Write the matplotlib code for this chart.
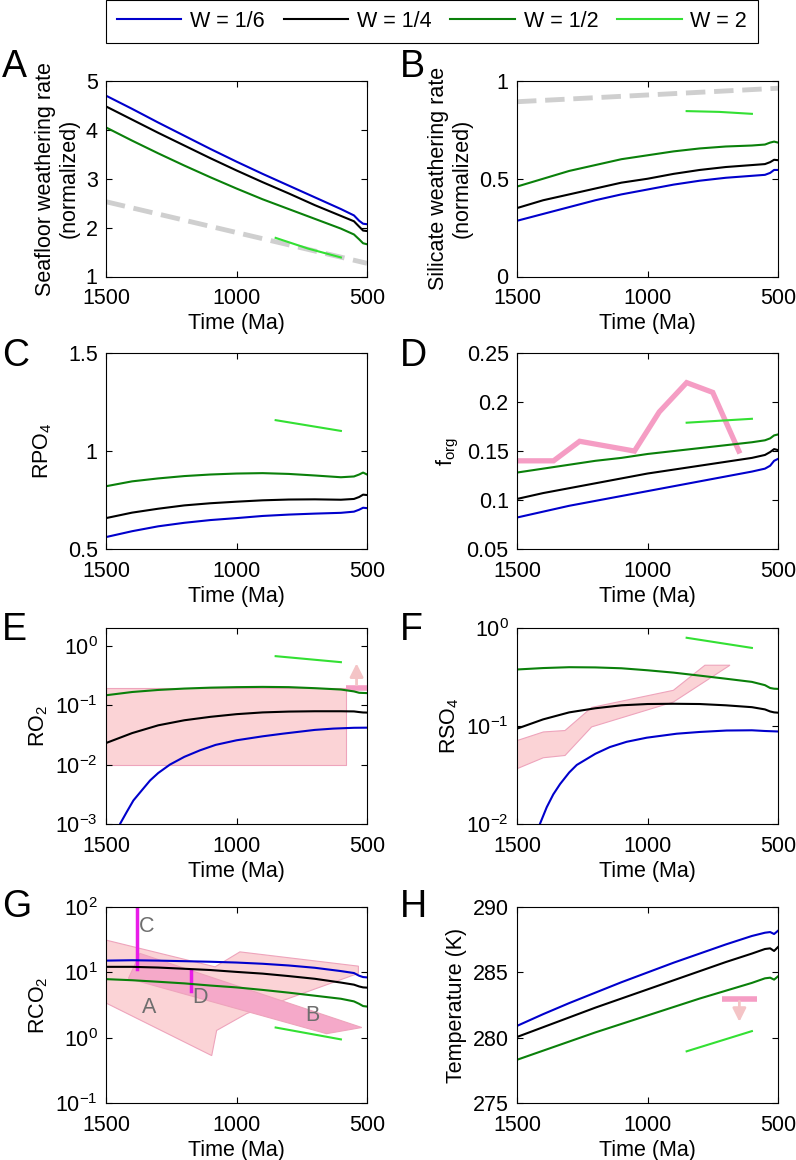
import matplotlib
matplotlib.use('Agg')
import matplotlib.pyplot as plt
from matplotlib.ticker import NullLocator, FuncFormatter

plt.rcParams['font.family'] = ['Liberation Sans', 'DejaVu Sans']
plt.rcParams['mathtext.fontset'] = 'custom'
plt.rcParams['mathtext.rm'] = 'Liberation Sans'
plt.rcParams['mathtext.it'] = 'Liberation Sans:italic'
plt.rcParams['mathtext.bf'] = 'Liberation Sans:bold'
plt.rcParams['axes.linewidth'] = 0.8

# model time grid (Ma)
t = [1500, 1400, 1300, 1200, 1100, 1000, 900, 800, 700, 600, 550, 530, 515, 500]
t_w2 = [850, 600]
labels = ['W = 1/6', 'W = 1/4', 'W = 1/2', 'W = 2']
colors = ['#0000cc', 'black', '#0a800a', '#33e033']

# A seafloor weathering
sea_16 = [4.70, 4.43, 4.15, 3.88, 3.61, 3.35, 3.10, 2.86, 2.62, 2.38, 2.25, 2.14, 2.08, 2.07]
sea_14 = [4.48, 4.21, 3.94, 3.68, 3.42, 3.17, 2.93, 2.70, 2.46, 2.24, 2.13, 2.02, 1.94, 1.93]
sea_12 = [4.05, 3.78, 3.52, 3.27, 3.03, 2.80, 2.58, 2.38, 2.18, 1.98, 1.86, 1.76, 1.68, 1.66]
sea_w2_t = [850, 725, 600]
sea_w2 = [1.79, 1.57, 1.39]
sea_ref_t = [1500, 500]
sea_ref = [2.53, 1.27]

# B silicate weathering
sil_16 = [0.285, 0.32, 0.355, 0.39, 0.42, 0.445, 0.47, 0.49, 0.505, 0.515, 0.52, 0.53, 0.545, 0.545]
sil_14 = [0.35, 0.39, 0.42, 0.45, 0.48, 0.50, 0.525, 0.545, 0.56, 0.57, 0.575, 0.585, 0.597, 0.595]
sil_12 = [0.46, 0.50, 0.54, 0.57, 0.60, 0.62, 0.64, 0.655, 0.665, 0.67, 0.675, 0.685, 0.69, 0.685]
sil_w2_t = [850, 725, 600]
sil_w2 = [0.846, 0.842, 0.832]
sil_ref_t = [1500, 500]
sil_ref = [0.894, 0.963]

# C RPO4
po4_16 = [0.56, 0.59, 0.615, 0.633, 0.647, 0.657, 0.668, 0.675, 0.68, 0.684, 0.69, 0.70, 0.71, 0.708]
po4_14 = [0.657, 0.685, 0.705, 0.722, 0.733, 0.741, 0.748, 0.752, 0.753, 0.751, 0.755, 0.765, 0.777, 0.775]
po4_12 = [0.82, 0.845, 0.86, 0.872, 0.88, 0.885, 0.887, 0.883, 0.875, 0.866, 0.87, 0.88, 0.89, 0.88]
po4_w2 = [1.158, 1.103]

# D forg
forg_16 = [0.082, 0.088, 0.094, 0.099, 0.104, 0.109, 0.114, 0.119, 0.124, 0.129, 0.132, 0.135, 0.140, 0.142]
forg_14 = [0.101, 0.107, 0.112, 0.117, 0.122, 0.127, 0.131, 0.135, 0.139, 0.143, 0.146, 0.149, 0.152, 0.151]
forg_12 = [0.128, 0.132, 0.136, 0.140, 0.143, 0.147, 0.150, 0.153, 0.156, 0.159, 0.161, 0.163, 0.166, 0.167]
forg_w2 = [0.179, 0.183]
forg_obs_t = [1500, 1360, 1260, 1050, 955, 850, 750, 650]
forg_obs = [0.14, 0.14, 0.16, 0.15, 0.19, 0.22, 0.21, 0.15]

# E RO2
o2_16_t = [1452, 1446, 1420, 1395, 1360, 1331, 1300, 1255, 1200, 1140, 1080, 1000, 900, 821, 700, 629, 550, 500]
o2_16 = [0.0008, 0.001, 0.0016, 0.00248, 0.0038, 0.0054, 0.0072, 0.01, 0.0135, 0.0174, 0.0215, 0.0257,
         0.030, 0.0333, 0.0385, 0.0405, 0.0418, 0.042]
o2_14 = [0.0231, 0.034, 0.046, 0.056, 0.064, 0.071, 0.076, 0.0785, 0.0795, 0.0795, 0.079, 0.077, 0.0758, 0.0755]
o2_12 = [0.148, 0.168, 0.182, 0.192, 0.199, 0.203, 0.205, 0.203, 0.195, 0.185, 0.172, 0.163, 0.162, 0.161]
o2_w2 = [0.677, 0.536]
o2_box_t = [1500, 580]
o2_box = [0.01, 0.2]
o2_min_t = [580, 500]
o2_min = 0.2
o2_arrow_t = 540
o2_arrow_top = 0.57

# F RSO4
so4_16_t = [1420, 1412, 1386, 1361, 1335, 1300, 1271, 1200, 1144, 1080, 1003, 888, 800, 697, 600, 550, 500]
so4_16 = [0.0085, 0.01, 0.0148, 0.020, 0.0255, 0.0335, 0.040, 0.052, 0.061, 0.069, 0.076, 0.0835, 0.087,
          0.090, 0.0905, 0.089, 0.088]
so4_14 = [0.094, 0.117, 0.138, 0.152, 0.163, 0.168, 0.169, 0.168, 0.163, 0.156, 0.148, 0.141, 0.138, 0.137]
so4_12 = [0.379, 0.392, 0.40, 0.398, 0.39, 0.372, 0.352, 0.328, 0.305, 0.283, 0.262, 0.245, 0.241, 0.240]
so4_w2 = [0.80, 0.63]
so4_band_t = [1500, 1399, 1316, 1214, 901, 780, 684, 901, 1214, 1316, 1399, 1500]
so4_band = [0.071, 0.087, 0.090, 0.155, 0.232, 0.419, 0.419, 0.176, 0.098, 0.050, 0.0474, 0.0366]

# G RCO2
co2_16 = [15.2, 15.4, 15.2, 14.9, 14.6, 14.2, 13.6, 12.8, 11.8, 10.5, 9.8, 8.9, 8.5, 8.4]
co2_14 = [12.2, 12.2, 11.9, 11.4, 10.9, 10.2, 9.6, 8.8, 8.0, 7.0, 6.5, 6.1, 5.9, 5.85]
co2_12 = [7.9, 7.6, 7.2, 6.8, 6.3, 5.9, 5.4, 4.9, 4.4, 3.95, 3.6, 3.3, 3.05, 3.0]
co2_w2 = [1.43, 0.94]
co2_A_t = [1500, 1082, 987, 533, 533, 961, 1076, 1095, 1500]
co2_A = [31.4, 12.2, 20.7, 12.5, 9.7, 2.34, 1.29, 0.53, 3.4]
co2_B_t = [1414, 1370, 520, 655]
co2_B = [8.1, 19.6, 1.43, 1.15]
co2_C_t = 1380
co2_C = [100, 11.2]
co2_D_t = 1174
co2_D = [10.5, 5.2]
co2_text = ['A', 'B', 'C', 'D']
co2_text_t = [1336, 710, 1344, 1140]
co2_text_v = [2.95, 2.2, 50, 4.2]

# H temperature
temp_16 = [280.9, 281.8, 282.65, 283.45, 284.25, 285.0, 285.75, 286.45, 287.15, 287.8, 288.05, 288.1, 287.95, 288.2]
temp_14 = [280.05, 280.8, 281.55, 282.3, 283.0, 283.7, 284.4, 285.1, 285.8, 286.45, 286.8, 286.85, 286.65, 286.95]
temp_12 = [278.3, 279.0, 279.7, 280.4, 281.05, 281.7, 282.35, 283.0, 283.6, 284.2, 284.55, 284.6, 284.45, 284.7]
temp_w2 = [278.95, 280.5]
temp_max_t = [715, 582]
temp_max = 283.0
temp_arrow_t = 648
temp_arrow_bot = 281.0

pink_light = '#fbd3d6'
pink_edge = '#eea4bc'
pink_hot = '#f59dc4'
pink_arrow = '#f4c4c6'
grey = '#cfcfcf'
magenta = '#e81ce8'
fs = 15.5

fig = plt.figure(figsize=(7.96, 11.6), dpi=100)
W, H = 796.0, 1160.0
lefts = [106, 517]
tops = [81, 353.3, 628.3, 907.3]


def make_ax(row, col):
    return fig.add_axes([lefts[col] / W, 1 - (tops[row] + 195.5) / H, 261 / W, 195.5 / H])


def setup(ax, ylim, yticks, ylabel, log=False):
    ax.set_xlim(1500, 500)
    ax.set_xticks([1500, 1000, 500])
    if log:
        ax.set_yscale('log')
        ax.yaxis.set_minor_locator(NullLocator())
    else:
        ax.yaxis.set_major_formatter(FuncFormatter(lambda v, p: '%g' % v))
    ax.set_ylim(*ylim)
    ax.set_yticks(yticks)
    ax.tick_params(direction='in', top=True, right=True, length=4, width=0.8,
                   labelsize=fs)
    ax.tick_params(axis='x', pad=8.5)
    ax.tick_params(axis='y', pad=6)
    ax.set_xlabel('Time (Ma)', fontsize=fs, labelpad=3)
    ax.set_ylabel(ylabel, fontsize=fs)


def model_lines(ax, y16, y14, y12, yw2, t16=t, tw2=t_w2):
    h = []
    h += ax.plot(t16, y16, color=colors[0], lw=1.5)
    h += ax.plot(t, y14, color=colors[1], lw=1.5)
    h += ax.plot(t, y12, color=colors[2], lw=1.5)
    h += ax.plot(tw2, yw2, color=colors[3], lw=1.5)
    return h


def letter(s, x, y):
    fig.text(x / W, 1 - y / H, s, fontsize=27, va='baseline', ha='left')


# A
ax = make_ax(0, 0)
ax.plot(sea_ref_t, sea_ref, color=grey, lw=3.5, ls=(0, (4, 1.8)))
handles = model_lines(ax, sea_16, sea_14, sea_12, sea_w2, tw2=sea_w2_t)
setup(ax, (1, 5), [1, 2, 3, 4, 5], 'Seafloor weathering rate\n(normalized)')
letter('A', 2, 77)

# B
ax = make_ax(0, 1)
ax.plot(sil_ref_t, sil_ref, color=grey, lw=3.5, ls=(0, (4, 1.8)))
model_lines(ax, sil_16, sil_14, sil_12, sil_w2, tw2=sil_w2_t)
setup(ax, (0, 1), [0, 0.5, 1], 'Silicate weathering rate\n(normalized)')
letter('B', 400, 77)

# C
ax = make_ax(1, 0)
model_lines(ax, po4_16, po4_14, po4_12, po4_w2)
setup(ax, (0.5, 1.5), [0.5, 1, 1.5], 'RPO$_4$')
ax.yaxis.labelpad = 10
letter('C', 2, 366)

# D
ax = make_ax(1, 1)
ax.plot(forg_obs_t, forg_obs, color=pink_hot, lw=3.8, solid_joinstyle='miter')
model_lines(ax, forg_16, forg_14, forg_12, forg_w2)
setup(ax, (0.05, 0.25), [0.05, 0.1, 0.15, 0.2, 0.25], 'f$_{\\mathrm{org}}$')
letter('D', 400, 366)

# E
ax = make_ax(2, 0)
ax.fill_between(o2_box_t, o2_box[0], o2_box[1], facecolor=pink_light, edgecolor=pink_edge, lw=0.8)
ax.plot(o2_min_t, [o2_min, o2_min], color=pink_hot, lw=4, solid_capstyle='butt')
ax.annotate('', xy=(o2_arrow_t, o2_arrow_top), xytext=(o2_arrow_t, o2_min),
            arrowprops=dict(arrowstyle='-|>', color=pink_arrow, lw=2, mutation_scale=20))
model_lines(ax, o2_16, o2_14, o2_12, o2_w2, t16=o2_16_t)
setup(ax, (1e-3, 2), [1e-3, 1e-2, 1e-1, 1], 'RO$_2$', log=True)
letter('E', 2, 640)

# F
ax = make_ax(2, 1)
ax.fill(so4_band_t, so4_band, facecolor=pink_light, edgecolor=pink_edge, lw=0.8)
model_lines(ax, so4_16, so4_14, so4_12, so4_w2, t16=so4_16_t)
setup(ax, (1e-2, 1), [1e-2, 1e-1, 1], 'RSO$_4$', log=True)
letter('F', 400, 640)

# G
ax = make_ax(3, 0)
ax.fill(co2_A_t, co2_A, facecolor=pink_light, edgecolor=pink_edge, lw=0.8)
ax.fill(co2_B_t, co2_B, facecolor='#f5a9c9', edgecolor=pink_edge, lw=0.8)
ax.plot([co2_C_t, co2_C_t], co2_C, color=magenta, lw=2.5)
ax.plot([co2_D_t, co2_D_t], co2_D, color=magenta, lw=2.5)
for s, tx, ty in zip(co2_text, co2_text_t, co2_text_v):
    ax.text(tx, ty, s, fontsize=fs, color='#6e6e6e', ha='center', va='center')
model_lines(ax, co2_16, co2_14, co2_12, co2_w2)
setup(ax, (0.1, 100), [0.1, 1, 10, 100], 'RCO$_2$', log=True)
letter('G', 2, 917)

# H
ax = make_ax(3, 1)
ax.plot(temp_max_t, [temp_max, temp_max], color=pink_hot, lw=4, solid_capstyle='butt')
ax.annotate('', xy=(temp_arrow_t, temp_arrow_bot), xytext=(temp_arrow_t, temp_max),
            arrowprops=dict(arrowstyle='-|>', color=pink_arrow, lw=2, mutation_scale=20))
model_lines(ax, temp_16, temp_14, temp_12, temp_w2)
setup(ax, (275, 290), [275, 280, 285, 290], 'Temperature (K)')
letter('H', 400, 917)

leg = fig.legend(handles, labels, ncol=4, loc='center', mode='expand',
                 bbox_to_anchor=(106 / W, 1 - 41 / H, 652 / W, 39 / H),
                 fontsize=fs, frameon=True, fancybox=False, framealpha=1,
                 handlelength=3.0, handletextpad=0.4, borderaxespad=0, borderpad=0.5)
leg.get_frame().set_edgecolor('black')
leg.get_frame().set_linewidth(0.8)

fig.savefig('out.png', dpi=100)
